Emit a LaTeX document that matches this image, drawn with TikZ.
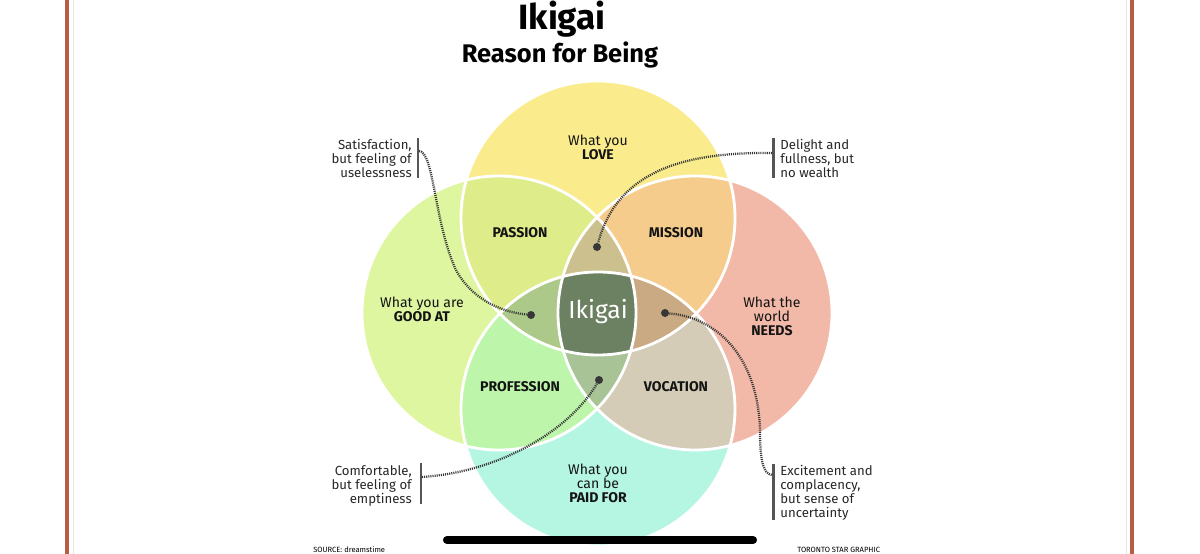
\documentclass[tikz,border=0pt]{standalone}
\usepackage{fontspec}
\setmainfont{Fira Sans}
\definecolor{lovefill}{RGB}{250,236,140}
\definecolor{goodfill}{RGB}{223,246,160}
\definecolor{needsfill}{RGB}{243,185,168}
\definecolor{paidfill}{RGB}{181,246,226}
\definecolor{passionfill}{RGB}{222,236,138}
\definecolor{missionfill}{RGB}{246,204,140}
\definecolor{professionfill}{RGB}{189,246,171}
\definecolor{vocationfill}{RGB}{212,204,182}
\definecolor{toplens}{RGB}{203,192,142}
\definecolor{leftlens}{RGB}{172,201,138}
\definecolor{rightlens}{RGB}{201,170,130}
\definecolor{bottomlens}{RGB}{168,196,151}
\definecolor{ikigaifill}{RGB}{108,128,98}
\definecolor{framered}{RGB}{184,92,66}
\definecolor{inkc}{RGB}{20,20,20}
\definecolor{notec}{RGB}{40,40,40}
\definecolor{barc}{RGB}{85,85,85}
\definecolor{leadc}{RGB}{55,55,55}
\newcommand{\loveC}{(598,218) circle (137)}
\newcommand{\goodC}{(499,313) circle (137)}
\newcommand{\needsC}{(695,313) circle (137)}
\newcommand{\paidC}{(598,409) circle (137)}
\begin{document}
\begin{tikzpicture}[x=0.02cm, y=-0.02cm, line join=round, line cap=round,
		ring/.style={draw=white, line width=1.6pt},
		area/.style={font=\fontsize{8}{8}\selectfont, text=inkc, align=center},
		zone/.style={font=\fontsize{8}{8}\selectfont\bfseries, text=inkc},
		note/.style={font=\fontsize{7.5}{8}\selectfont, text=notec, inner sep=0pt},
		notebar/.style={draw=barc, line width=1.7pt, line cap=butt},
		leader/.style={draw=leadc, line width=1.3pt, dash pattern=on 0.6pt off 0.6pt, line cap=butt},
		enddot/.style={circle, fill=leadc, inner sep=0pt, minimum size=0.16cm}]
		\useasboundingbox (0,0) rectangle (1200,554);
		\fill[white] (0,0) rectangle (1200,554);
		\draw[framered, line width=2.3pt, line cap=butt] (67,0) -- (67,554);
		\draw[framered, line width=2.3pt, line cap=butt] (1132,0) -- (1132,554);
		\draw[black!10, line width=0.4pt] (73,0) -- (73,554);
		\draw[black!10, line width=0.4pt] (1126,0) -- (1126,554);
		\fill[lovefill] \loveC;
		\fill[goodfill] \goodC;
		\fill[needsfill] \needsC;
		\fill[paidfill] \paidC;
		\begin{scope}
			\clip \loveC;
			\fill[passionfill] \goodC;
			\fill[missionfill] \needsC;
		\end{scope}
		\begin{scope}
			\clip \paidC;
			\fill[professionfill] \goodC;
			\fill[vocationfill] \needsC;
		\end{scope}
		\begin{scope}
			\clip \loveC; \clip \goodC;
			\fill[toplens] \needsC;
			\fill[leftlens] \paidC;
		\end{scope}
		\begin{scope}
			\clip \paidC; \clip \needsC;
			\fill[rightlens] \loveC;
			\fill[bottomlens] \goodC;
		\end{scope}
		\begin{scope}
			\clip \loveC; \clip \goodC; \clip \needsC;
			\fill[ikigaifill] \paidC;
		\end{scope}
		\draw[ring] \loveC;
		\draw[ring] \goodC;
		\draw[ring] \needsC;
		\draw[ring] \paidC;
		\node[anchor=base, font=\fontsize{20}{20}\selectfont\bfseries] (title) at (562,30) {Ikigai};
		\node[anchor=base, font=\fontsize{14.5}{14.5}\selectfont\bfseries] (subtitle) at (560,63) {Reason for Being};
		\node[area] (love) at (598,147) {What you\\\textbf{LOVE}};
		\node[area] (good) at (422,309) {What you are\\\textbf{GOOD AT}};
		\node[area] (needs) at (772,316) {What the\\world\\\textbf{NEEDS}};
		\node[area] (paid) at (598,483) {What you\\can be\\\textbf{PAID FOR}};
		\node[zone] (passion) at (520,233) {PASSION};
		\node[zone] (mission) at (676,233) {MISSION};
		\node[zone] (profession) at (520,387) {PROFESSION};
		\node[zone] (vocation) at (676,387) {VOCATION};
		\node[font=\fontsize{14}{14}\selectfont, text=white] (ikigai) at (598,312) {Ikigai};
		\node[note, anchor=east, align=right] (n1) at (412,158) {Satisfaction,\\but feeling of\\uselessness};
		\node[note, anchor=west, align=left] (n2) at (780,158) {Delight and\\fullness, but\\no wealth};
		\node[note, anchor=east, align=right] (n3) at (412,486) {Comfortable,\\but feeling of\\emptiness};
		\node[note, anchor=west, align=left] (n4) at (780,493) {Excitement and\\complacency,\\but sense of\\uncertainty};
		\coordinate (b1t) at (418,138); \coordinate (b1b) at (418,178);
		\coordinate (b2t) at (773,138); \coordinate (b2b) at (773,178);
		\coordinate (b3t) at (421,463); \coordinate (b3b) at (421,504);
		\coordinate (b4t) at (773,464); \coordinate (b4b) at (773,520);
		\draw[notebar] (b1t) -- (b1b);
		\draw[notebar] (b2t) -- (b2b);
		\draw[notebar] (b3t) -- (b3b);
		\draw[notebar] (b4t) -- (b4b);
		\coordinate (s1) at (419,151);
		\coordinate (s2) at (772,153);
		\coordinate (s3) at (422,477);
		\coordinate (s4) at (772,475);
		\node[enddot] (e1) at (531,315) {};
		\node[enddot] (e2) at (597,247) {};
		\node[enddot] (e3) at (599,380) {};
		\node[enddot] (e4) at (665,313) {};
		\draw[leader] (s1) .. controls (434,152) and (434,220) .. (455,268) .. controls (470,298) and (500,312) .. (e1);
		\draw[leader] (s2) .. controls (690,152) and (618,168) .. (e2);
		\draw[leader] (s3) .. controls (500,472) and (570,430) .. (e3);
		\draw[leader] (e4) .. controls (720,318) and (758,360) .. (760,430) .. controls (760,460) and (763,474) .. (s4);
		\draw[line width=4.6pt, line cap=round] (447,540) -- (753,540);
		\node[anchor=base west, font=\fontsize{4.3}{5}\selectfont, inner sep=0pt] (source) at (313,552) {SOURCE: dreamstime};
		\node[anchor=base west, font=\fontsize{4.3}{5}\selectfont, inner sep=0pt] (credit) at (797,552) {TORONTO STAR GRAPHIC};
	\end{tikzpicture}
\end{document}
